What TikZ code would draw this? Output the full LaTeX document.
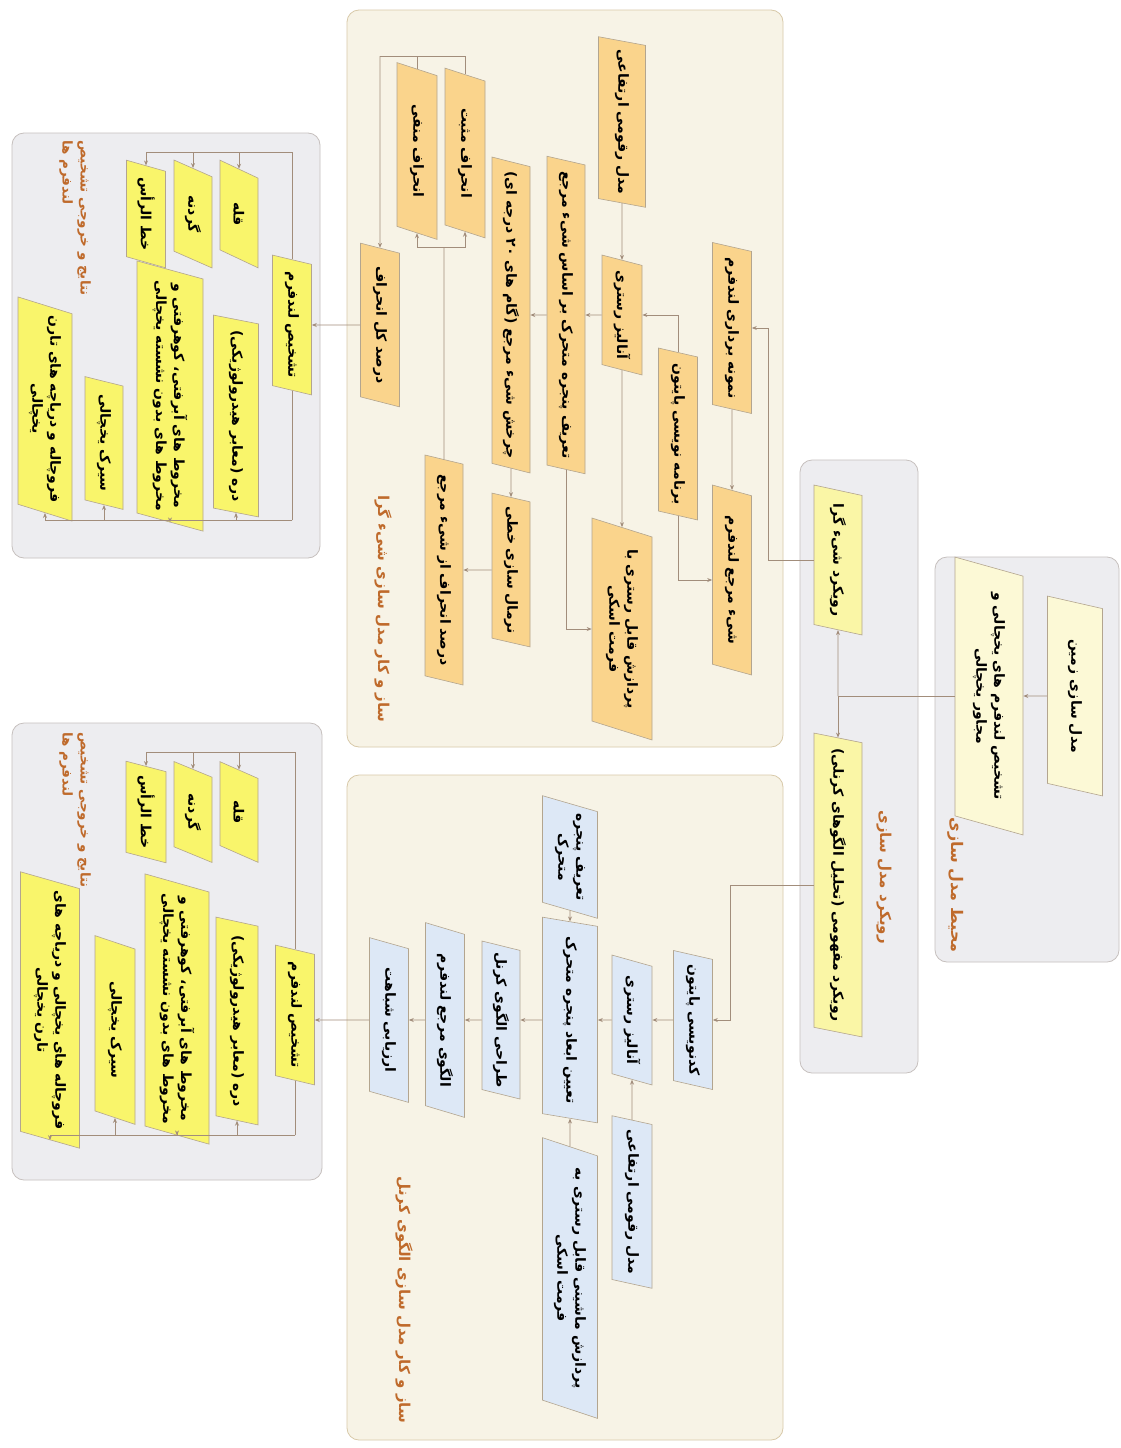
\documentclass[tikz,border=0pt]{standalone}
\usepackage{fontspec}
\usetikzlibrary{shapes.geometric,arrows.meta}
\newfontfamily\farsi[Script=Arabic]{DejaVu Sans}
\TeXXeTstate=1
\newcommand{\fa}[1]{\beginR #1\endR}

\definecolor{creamfill}{HTML}{F7F3E6}
\definecolor{creamline}{HTML}{D8C9A9}
\definecolor{grayfill}{HTML}{EDEDF0}
\definecolor{grayline}{HTML}{C6C0BE}
\definecolor{orangefill}{HTML}{FAD48C}
\definecolor{yellowfill}{HTML}{F9F56B}
\definecolor{paleyellow}{HTML}{FAF6A6}
\definecolor{envfill}{HTML}{FCF9D6}
\definecolor{bluefill}{HTML}{DDE8F6}
\definecolor{boxline}{HTML}{B3A58F}
\definecolor{linecol}{HTML}{A28D7B}
\definecolor{labelcol}{HTML}{BF6A2B}

\tikzset{
  box/.style={trapezium, trapezium left angle=65, trapezium right angle=115,
    trapezium stretches=true, rotate=-90, draw=boxline, line width=0.6pt,
    inner sep=2pt, align=center, font=\farsi\bfseries\fontsize{14}{18}\selectfont},
  dims/.style 2 args={minimum width=#1, minimum height=#2},
  obox/.style={box, fill=orangefill},
  ybox/.style={box, fill=yellowfill},
  bbox/.style={box, fill=bluefill},
  abox/.style={box, fill=paleyellow},
  ebox/.style={box, fill=envfill},
  lbl/.style={rotate=-90, text=labelcol, align=left,
    font=\farsi\bfseries\fontsize{15}{20}\selectfont},
  panel/.style={rounded corners=12pt, line width=0.8pt},
  link/.style={draw=linecol, line width=0.8pt},
  conn/.style={link, -{Stealth[length=5pt,width=4pt]}}
}

\begin{document}
\begin{tikzpicture}[x=1pt, y=-1pt]
\useasboundingbox[fill=white] (0,0) rectangle (1121,1448);

% panels
\draw[panel, fill=grayfill, draw=grayline] (935,557) rectangle (1119,962);
\draw[panel, fill=grayfill, draw=grayline] (800,460) rectangle (918,1073);
\draw[panel, fill=creamfill, draw=creamline] (347,10) rectangle (783,747);
\draw[panel, fill=creamfill, draw=creamline] (347,775) rectangle (783,1440);
\draw[panel, fill=grayfill, draw=grayline] (12,133) rectangle (320,558);
\draw[panel, fill=grayfill, draw=grayline] (12,723) rectangle (322,1180);

% panel titles
\node[lbl, font=\farsi\bfseries\fontsize{16}{20}\selectfont] (lenv) at (956,885) {\fa{محیط مدل سازی}};
\node[lbl] (lappr) at (884,877) {\fa{رویکرد مدل سازی}};
\node[lbl] (lobj) at (383,609) {\fa{ساز و کار مدل سازی شیء گرا}};
\node[lbl] (lker) at (404,1300) {\fa{ساز و کار مدل سازی الگوی کرنل}};
\node[lbl, font=\farsi\bfseries\fontsize{13.5}{18}\selectfont] (lres1) at (75,218) {\fa{نتایج و خروجی تشخیص}\\\fa{لندفرم ها}};
\node[lbl, font=\farsi\bfseries\fontsize{13.5}{18}\selectfont] (lres2) at (75,810) {\fa{نتایج و خروجی تشخیص}\\\fa{لندفرم ها}};

% modelling environment and approaches
\node[ebox, dims={200pt}{55pt}] (n1) at (1075,696) {\fa{مدل سازی زمین}};
\node[ebox, dims={278pt}{68pt}] (n2) at (989,696) {\fa{تشخیص لندفرم های یخچالی و}\\\fa{مجاور یخچالی}};
\node[abox, dims={150pt}{48pt}] (n3) at (838,560) {\fa{رویکرد شیء گرا}};
\node[abox, dims={305pt}{48pt}] (n4) at (838,885) {\fa{رویکرد مفهومی (تحلیل الگوهای کرنلی)}};

% object based mechanism
\node[obox, dims={171pt}{47pt}] (dem) at (622,122) {\fa{مدل رقومی ارتفاعی}};
\node[obox, dims={171pt}{39pt}] (samp) at (732,328) {\fa{نمونه برداری لندفرم}};
\node[obox, dims={120pt}{40pt}] (ras) at (622,315) {\fa{آنالیز رستری}};
\node[obox, dims={172pt}{39pt}] (py) at (678,434) {\fa{برنامه نویسی پایتون}};
\node[obox, dims={190pt}{39pt}] (ref) at (732,580) {\fa{شیء مرجع لندفرم}};
\node[obox, dims={318pt}{38pt}] (win) at (566,315) {\fa{تعریف پنجره متحرک بر اساس شیء مرجع}};
\node[obox, dims={316pt}{38pt}] (rot) at (511,315) {\fa{چرخش شیء مرجع (گام های ۲۰ درجه ای)}};
\node[obox, dims={222pt}{60pt}] (asc) at (622,629) {\fa{پردازش قابل رستری با}\\\fa{فرمت اسکی}};
\node[obox, dims={154pt}{38pt}] (norm) at (511,570) {\fa{نرمال سازی خطی}};
\node[obox, dims={230pt}{38pt}] (dev) at (444,570) {\fa{درصد انحراف از شیء مرجع}};
\node[obox, dims={170pt}{40pt}] (pos) at (465,153) {\fa{انحراف مثبت}};
\node[obox, dims={177pt}{40pt}] (neg) at (417,151) {\fa{انحراف منفی}};
\node[obox, dims={164pt}{39pt}] (tot) at (380,325) {\fa{درصد کل انحراف}};

% kernel mechanism
\node[bbox, dims={139pt}{39pt}] (kpy) at (693,1020) {\fa{کدنویسی پایتون}};
\node[bbox, dims={130pt}{40pt}] (kras) at (632,1020) {\fa{آنالیز رستری}};
\node[bbox, dims={173pt}{40pt}] (kdem) at (632,1202) {\fa{مدل رقومی ارتفاعی}};
\node[bbox, dims={206pt}{55pt}] (kdim) at (570,1020) {\fa{تعیین ابعاد پنجره متحرک}};
\node[bbox, dims={108pt}{55pt}] (kwin) at (570,857) {\fa{تعریف پنجره}\\\fa{متحرک}};
\node[bbox, dims={281pt}{55pt}] (kasc) at (570,1278) {\fa{پردازش ماشینی قابل رستری به}\\\fa{فرمت اسکی}};
\node[bbox, dims={158pt}{38pt}] (kker) at (501,1020) {\fa{طراحی الگوی کرنل}};
\node[bbox, dims={195pt}{39pt}] (kref) at (445,1020) {\fa{الگوی مرجع لندفرم}};
\node[bbox, dims={165pt}{39pt}] (ksim) at (389,1020) {\fa{ارزیابی شباهت}};

% results of the object based mechanism
\node[ybox, dims={140pt}{39pt}] (adet) at (292,325) {\fa{تشخیص لندفرم}};
\node[ybox, dims={108pt}{38pt}] (apeak) at (239,214) {\fa{قله}};
\node[ybox, dims={108pt}{38pt}] (acol) at (193,214) {\fa{گردنه}};
\node[ybox, dims={108pt}{39pt}] (aridge) at (146,214) {\fa{خط الرأس}};
\node[ybox, dims={202pt}{45pt}] (aval) at (236,416) {\fa{دره (معابر هیدرولوژیکی)}};
\node[ybox, dims={247pt}{66pt}] (afan) at (170,396) {\fa{مخروط های آبرفتی، کوهرفتی و}\\\fa{مخروط های بدون نشسته یخچالی}};
\node[ybox, dims={133pt}{38pt}] (acirq) at (104,443) {\fa{سیرک یخچالی}};
\node[ybox, dims={208pt}{54pt}] (asink) at (45,409) {\fa{فروچاله و دریاچه های تارن}\\\fa{یخچالی}};

% results of the kernel mechanism
\node[ybox, dims={140pt}{39pt}] (bdet) at (295,1015) {\fa{تشخیص لندفرم}};
\node[ybox, dims={101pt}{38pt}] (bpeak) at (239,812) {\fa{قله}};
\node[ybox, dims={101pt}{38pt}] (bcol) at (193,812) {\fa{گردنه}};
\node[ybox, dims={102pt}{40pt}] (bridge) at (146,812) {\fa{خط الرأس}};
\node[ybox, dims={208pt}{42pt}] (bval) at (237,1021) {\fa{دره (معابر هیدرولوژیکی)}};
\node[ybox, dims={252pt}{64pt}] (bfan) at (177,1009) {\fa{مخروط های آبرفتی، کوهرفتی و}\\\fa{مخروط های بدون نشسته یخچالی}};
\node[ybox, dims={189pt}{40pt}] (bcirq) at (115,1030) {\fa{سیرک یخچالی}};
\node[ybox, dims={240pt}{59pt}] (bsink) at (50,1010) {\fa{فروچاله های یخچالی و دریاچه های}\\\fa{تارن یخچالی}};

% junctions
\coordinate (j0) at (838,696);
\coordinate (j1) at (768,560);
\coordinate (j2) at (444,247);
\coordinate (j3) at (380,56);
\coordinate (j4) at (730,885);
\coordinate (at) at (292,152);
\coordinate (ab) at (292,520);
\coordinate (bt) at (295,752);
\coordinate (bb) at (295,1135);

% top of the tree
\draw[conn] (n1) -- (n2);
\draw[link] (n2) -- (j0);
\draw[conn] (j0) -- (n3);
\draw[conn] (j0) -- (n4);

% object based flow
\draw[link] (n3) -- (j1);
\draw[conn] (j1) |- (samp);
\draw[conn] (dem) -- (ras);
\draw[conn] (py) |- (ras);
\draw[conn] (samp) -- (ref);
\draw[conn] (py) |- (ref);
\draw[conn] (ras) -- (win);
\draw[conn] (win) -- (rot);
\draw[conn] (ras) -- (asc);
\draw[conn] (win) |- (asc);
\draw[conn] (rot) -- (norm);
\draw[conn] (norm) -- (dev);
\draw[link] (dev) -- (j2);
\draw[conn] (j2) -| (neg);
\draw[conn] (j2) -| (pos);
\draw[link] (neg) |- (j3);
\draw[link] (pos) |- (j3);
\draw[conn] (j3) -- (tot);
\draw[conn] (tot) -- (adet);

% kernel flow
\draw[link] (n4) -- (j4);
\draw[conn] (j4) |- (kpy);
\draw[conn] (kpy) -- (kras);
\draw[conn] (kras) -- (kdim);
\draw[conn] (kdim) -- (kker);
\draw[conn] (kker) -- (kref);
\draw[conn] (kref) -- (ksim);
\draw[conn] (ksim) -- (bdet.north |- ksim);
\draw[conn] (kdem) -- (kras);
\draw[conn] (kwin) -- (kdim);
\draw[conn] (kasc) -- (kdim);

% result buses
\draw[link] (adet) -- (at);
\draw[link] (adet) -- (ab);
\draw[conn] (at) -| (apeak);
\draw[conn] (at) -| (acol);
\draw[conn] (at) -| (aridge);
\draw[conn] (ab) -| (aval);
\draw[conn] (ab) -| (afan);
\draw[conn] (ab) -| (acirq);
\draw[conn] (ab) -| (asink);
\draw[link] (bdet) -- (bt);
\draw[link] (bdet) -- (bb);
\draw[conn] (bt) -| (bpeak);
\draw[conn] (bt) -| (bcol);
\draw[conn] (bt) -| (bridge);
\draw[conn] (bb) -| (bval);
\draw[conn] (bb) -| (bfan);
\draw[conn] (bb) -| (bcirq);
\draw[conn] (bb) -| (bsink);
\end{tikzpicture}
\end{document}
